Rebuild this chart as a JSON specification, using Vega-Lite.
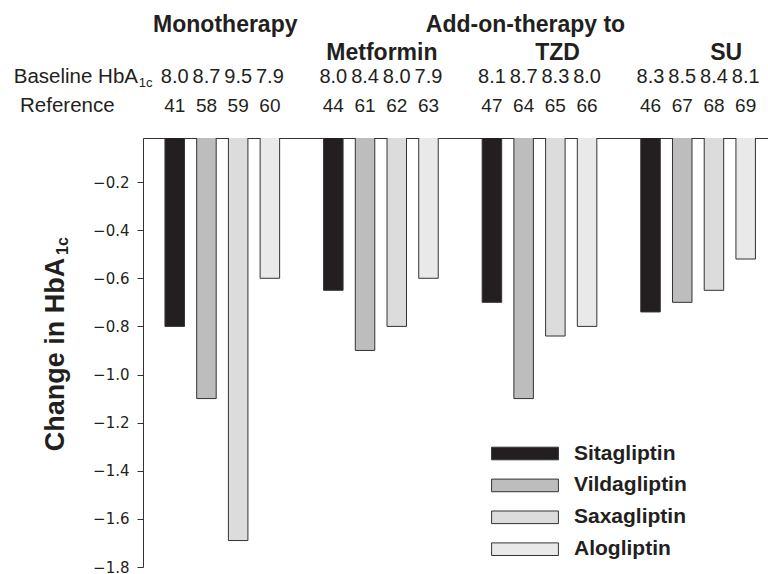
{
  "$schema": "https://vega.github.io/schema/vega-lite/v6.json",
  "autosize": {"type": "none"},
  "padding": {"left": 143, "top": 138, "right": 0, "bottom": 7},
  "width": 625,
  "height": 429,
  "background": "white",
  "config": {"view": {"stroke": null}, "text": {"color": "#231f20"}},
  "datasets": {
    "bars": [
      {"group": "Monotherapy", "drug": "Sitagliptin", "change": -0.80, "baseline": "8.0", "ref": "41"},
      {"group": "Monotherapy", "drug": "Vildagliptin", "change": -1.10, "baseline": "8.7", "ref": "58"},
      {"group": "Monotherapy", "drug": "Saxagliptin", "change": -1.69, "baseline": "9.5", "ref": "59"},
      {"group": "Monotherapy", "drug": "Alogliptin", "change": -0.60, "baseline": "7.9", "ref": "60"},
      {"group": "Metformin", "drug": "Sitagliptin", "change": -0.65, "baseline": "8.0", "ref": "44"},
      {"group": "Metformin", "drug": "Vildagliptin", "change": -0.90, "baseline": "8.4", "ref": "61"},
      {"group": "Metformin", "drug": "Saxagliptin", "change": -0.80, "baseline": "8.0", "ref": "62"},
      {"group": "Metformin", "drug": "Alogliptin", "change": -0.60, "baseline": "7.9", "ref": "63"},
      {"group": "TZD", "drug": "Sitagliptin", "change": -0.70, "baseline": "8.1", "ref": "47"},
      {"group": "TZD", "drug": "Vildagliptin", "change": -1.10, "baseline": "8.7", "ref": "64"},
      {"group": "TZD", "drug": "Saxagliptin", "change": -0.84, "baseline": "8.3", "ref": "65"},
      {"group": "TZD", "drug": "Alogliptin", "change": -0.80, "baseline": "8.0", "ref": "66"},
      {"group": "SU", "drug": "Sitagliptin", "change": -0.74, "baseline": "8.3", "ref": "46"},
      {"group": "SU", "drug": "Vildagliptin", "change": -0.70, "baseline": "8.5", "ref": "67"},
      {"group": "SU", "drug": "Saxagliptin", "change": -0.65, "baseline": "8.4", "ref": "68"},
      {"group": "SU", "drug": "Alogliptin", "change": -0.52, "baseline": "8.1", "ref": "69"}
    ]
  },
  "data": {"name": "bars"},
  "layer": [
    {
      "mark": {"type": "bar", "clip": true, "stroke": "#333333", "strokeWidth": 1},
      "encoding": {
        "x": {
          "field": "group", "type": "nominal", "sort": null,
          "scale": {"domain": ["Monotherapy", "Metformin", "TZD", "SU"], "range": [0, 634.4], "paddingInner": 0, "paddingOuter": 0},
          "axis": {"orient": "top", "labels": false, "ticks": false, "title": null, "domainColor": "#333333", "domainWidth": 1}
        },
        "xOffset": {
          "field": "drug", "type": "nominal",
          "scale": {"domain": ["Sitagliptin", "Vildagliptin", "Saxagliptin", "Alogliptin"], "paddingInner": 0.385, "paddingOuter": 0.6925}
        },
        "y": {
          "field": "change", "type": "quantitative",
          "scale": {"domain": [-1.8, -0.017], "nice": false, "zero": false},
          "axis": {
            "values": [-0.2, -0.4, -0.6, -0.8, -1.0, -1.2, -1.4, -1.6, -1.8],
            "format": ".1f", "grid": false,
            "domainColor": "#333333", "tickColor": "#333333", "tickSize": 6,
            "labelFont": "DejaVu Sans", "labelFontSize": 15, "labelColor": "#231f20", "labelPadding": 8,
            "title": "Change in HbA", "titleFont": "Liberation Sans", "titleFontWeight": "bold", "titleFontSize": 27,
            "titleColor": "#231f20", "titleAngle": 270, "titleX": -80, "titleY": 216, "titleAlign": "center", "titleBaseline": "alphabetic"
          }
        },
        "y2": {"datum": 0},
        "fill": {
          "field": "drug", "type": "nominal",
          "scale": {"domain": ["Sitagliptin", "Vildagliptin", "Saxagliptin", "Alogliptin"], "range": ["#231f20", "#bdbdbd", "#dcdcdc", "#e9e9e9"]},
          "legend": {
            "title": null, "orient": "none", "legendX": 371.5, "legendY": 305, "padding": 0,
            "symbolType": "M-5.3,-1H5.3V1H-5.3Z", "symbolSize": 159, "symbolStrokeColor": "#333333", "symbolStrokeWidth": 1, "symbolOpacity": 1,
            "labelFont": "Liberation Sans", "labelFontWeight": "bold", "labelFontSize": 21, "labelColor": "#231f20", "labelOffset": 38.5, "labelLimit": 0,
            "rowPadding": 9.9
          }
        }
      }
    },
    {
      "mark": {"type": "text", "font": "Liberation Sans", "fontSize": 20, "baseline": "alphabetic"},
      "encoding": {
        "x": {"field": "group", "type": "nominal"},
        "xOffset": {"field": "drug", "type": "nominal"},
        "y": {"datum": 0.2116},
        "text": {"field": "baseline"}
      }
    },
    {
      "mark": {"type": "text", "font": "Liberation Sans", "fontSize": 19, "baseline": "alphabetic"},
      "encoding": {
        "x": {"field": "group", "type": "nominal"},
        "xOffset": {"field": "drug", "type": "nominal"},
        "y": {"datum": 0.091},
        "text": {"field": "ref"}
      }
    },
    {
      "data": {"values": [{"group": "Monotherapy", "label": "Monotherapy"}]},
      "mark": {"type": "text", "font": "Liberation Sans", "fontWeight": "bold", "fontSize": 23, "baseline": "alphabetic", "dx": 3},
      "encoding": {"x": {"field": "group", "type": "nominal"}, "y": {"datum": 0.4248}, "text": {"field": "label"}}
    },
    {
      "data": {"values": [{"group": "TZD", "label": "Add-on-therapy to"}]},
      "mark": {"type": "text", "font": "Liberation Sans", "fontWeight": "bold", "fontSize": 23, "baseline": "alphabetic", "dx": -14},
      "encoding": {"x": {"field": "group", "type": "nominal"}, "y": {"datum": 0.4248}, "text": {"field": "label"}}
    },
    {
      "data": {"values": [{"group": "Metformin", "label": "Metformin"}]},
      "mark": {"type": "text", "font": "Liberation Sans", "fontWeight": "bold", "fontSize": 23, "baseline": "alphabetic", "dx": 1},
      "encoding": {"x": {"field": "group", "type": "nominal"}, "y": {"datum": 0.3072}, "text": {"field": "label"}}
    },
    {
      "data": {"values": [{"group": "TZD", "label": "TZD"}]},
      "mark": {"type": "text", "font": "Liberation Sans", "fontWeight": "bold", "fontSize": 23, "baseline": "alphabetic", "dx": 18},
      "encoding": {"x": {"field": "group", "type": "nominal"}, "y": {"datum": 0.3072}, "text": {"field": "label"}}
    },
    {
      "data": {"values": [{"group": "SU", "label": "SU"}]},
      "mark": {"type": "text", "font": "Liberation Sans", "fontWeight": "bold", "fontSize": 23, "baseline": "alphabetic", "dx": 28},
      "encoding": {"x": {"field": "group", "type": "nominal"}, "y": {"datum": 0.3072}, "text": {"field": "label"}}
    },
    {
      "data": {"values": [{"group": "Monotherapy", "label": "Baseline HbA"}]},
      "mark": {"type": "text", "font": "Liberation Sans", "fontSize": 20.5, "baseline": "alphabetic", "align": "right", "dx": -84.3},
      "encoding": {"x": {"field": "group", "type": "nominal"}, "y": {"datum": 0.2116}, "text": {"field": "label"}}
    },
    {
      "data": {"values": [{"group": "Monotherapy", "label": "1c"}]},
      "mark": {"type": "text", "font": "Liberation Sans", "fontSize": 13, "baseline": "alphabetic", "align": "left", "dx": -83.5},
      "encoding": {"x": {"field": "group", "type": "nominal"}, "y": {"datum": 0.195}, "text": {"field": "label"}}
    },
    {
      "data": {"values": [{"group": "Monotherapy", "label": "Reference"}]},
      "mark": {"type": "text", "font": "Liberation Sans", "fontSize": 20.5, "baseline": "alphabetic", "align": "left", "dx": -202.3},
      "encoding": {"x": {"field": "group", "type": "nominal"}, "y": {"datum": 0.091}, "text": {"field": "label"}}
    },
    {
      "data": {"values": [{"group": "Monotherapy", "label": "1c"}]},
      "mark": {"type": "text", "font": "Liberation Sans", "fontWeight": "bold", "fontSize": 16, "baseline": "alphabetic", "align": "left", "angle": 270, "dy": -154.3},
      "encoding": {"x": {"field": "group", "type": "nominal"}, "y": {"datum": -0.503}, "text": {"field": "label"}}
    }
  ]
}
